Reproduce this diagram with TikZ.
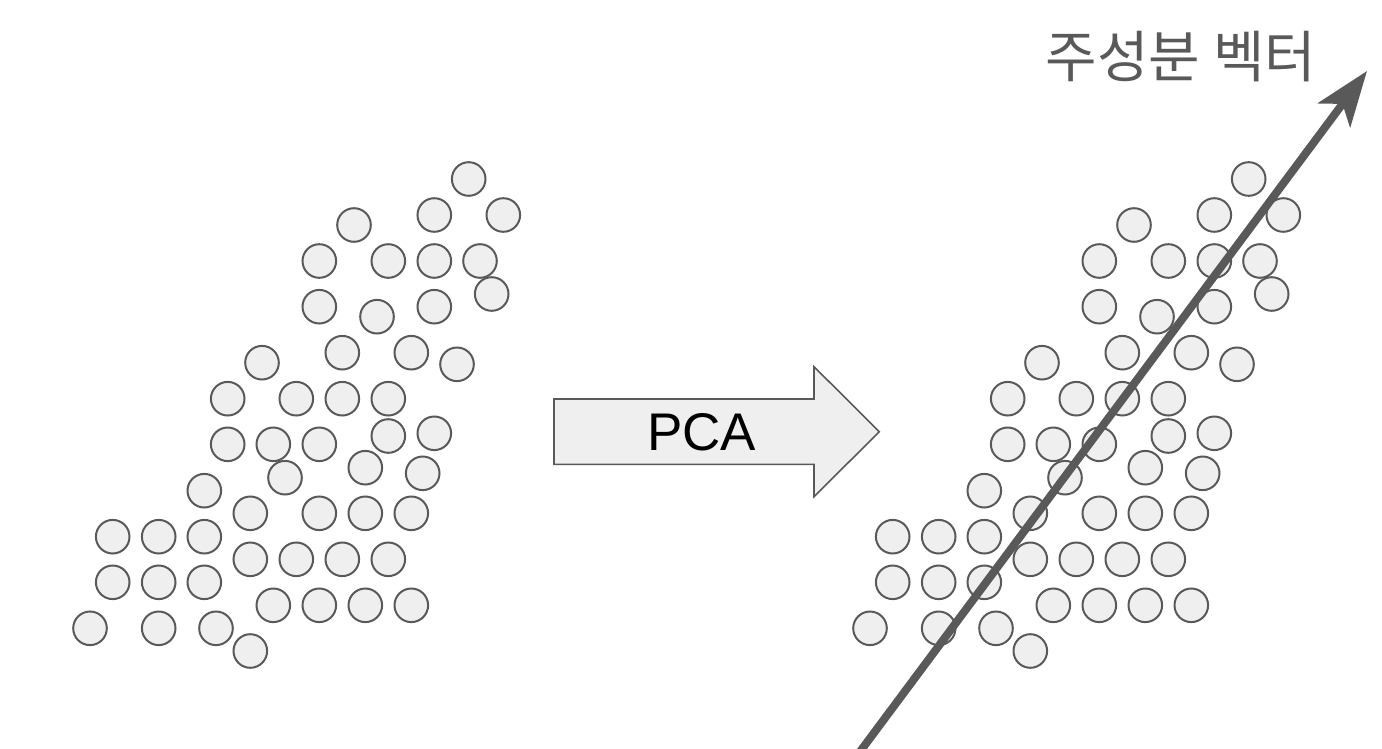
\documentclass[tikz,border=0pt]{standalone}
\usepackage{fontspec}
\setmainfont{Liberation Sans}
\newfontfamily\krfont{Noto Sans CJK KR}
\usetikzlibrary{arrows.meta}
\definecolor{dotfill}{HTML}{EFEFEF}
\definecolor{dotline}{HTML}{595959}
\tikzset{dot/.style={circle,draw=dotline,fill=dotfill,line width=2pt,minimum size=33.6pt,inner sep=0pt}}

\begin{document}
\begin{tikzpicture}[x=1pt,y=-1pt]
                      \useasboundingbox (0,0) rectangle (1382,749);
                      \foreach \px/\py [count=\i] in {468.7/179,434.3/215,503.3/215,354/225,
                          319.3/261,388.3/261,434.3/261,480/261,491.7/294,319.3/306.7,434.3/306.7,
                          377/316.7,342.3/352.7,411.3/352.7,262/362.7,457/364.3,
                          227.7/398.7,296.3/398.7,342.3/398.7,388.3/398.7,434.3/433.3,388.3/436,
                          227.7/444.3,273.3/444.3,319.3/444.3,365.3/467.7,422.7/473.3,285/477.7,
                          204.3/490.7,250.3/513.3,319.3/513.3,365.3/513.3,411.3/513.3,
                          112.7/536.7,158.7/536.7,204.3/536.7,
                          250.3/559.3,296.3/559.3,342.3/559.3,388.3/559.3,
                          112.7/582.3,158.7/582.3,204.3/582.3,
                          273.3/605.3,319.3/605.3,365.3/605.3,411.3/605.3,
                          90/628.3,158.7/628.3,216/628.3,250.3/651}
                      {
                          \node[dot] (l\i) at (\px,\py) {};
                          \node[dot] (r\i) at (\px+780,\py) {};
                      }
                      \filldraw [fill=dotfill, draw=dotline, line width=1.6pt] (554,399) -- (814,399) -- (814,366.7) -- (879.3,431.7) -- (814,496.7) -- (814,464.3) -- (554,464.3) -- cycle;
                      \node[font=\fontsize{53}{60}\selectfont] (pca) at (701.7,432.5) {PCA};
                      \coordinate (pcbase) at (856,757);
                      \coordinate (pctip) at (1367,71);
                      \draw [dotline, line width=8pt, -{Stealth[length=55pt,width=40pt,inset=14pt]}] (pcbase) -- (pctip);
                      \node[text=dotline, font=\krfont\fontsize{56}{62}\selectfont] (pcvec) at (1181,57) {주성분 벡터};
                  \end{tikzpicture}
\end{document}
